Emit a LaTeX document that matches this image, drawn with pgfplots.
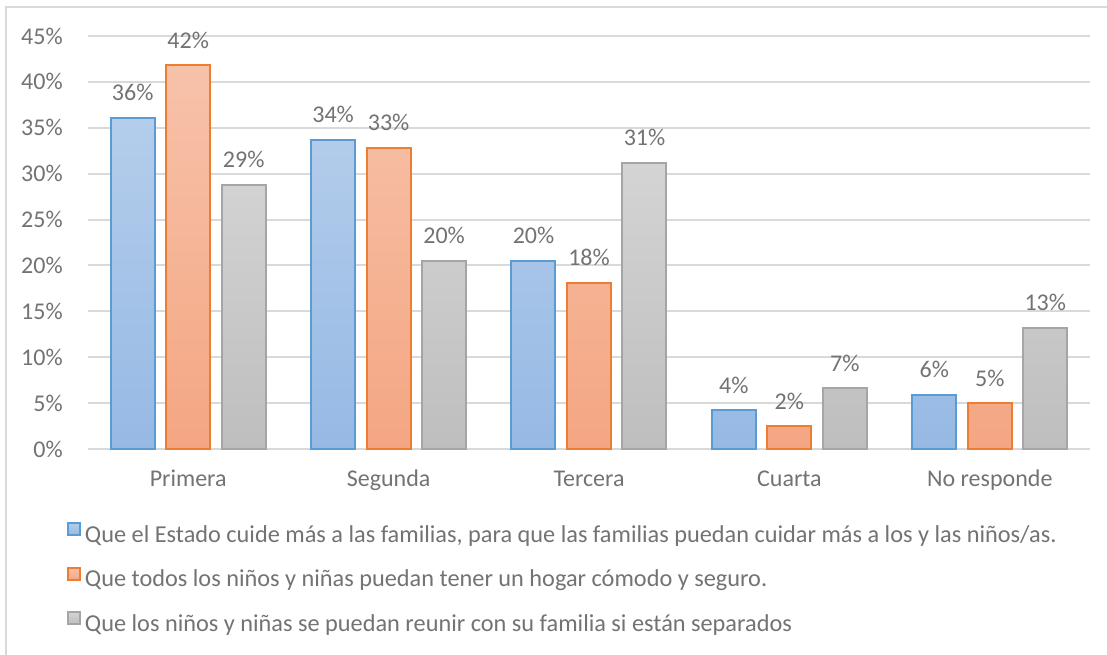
\documentclass[border=0pt]{standalone}
\usepackage{pgfplots}
\pgfplotsset{compat=1.18}
\usepackage{pgfplotstable}
\usepackage{fontspec}
\setmainfont{Carlito}
\definecolor{txt}{RGB}{115,115,115}
\definecolor{grid}{RGB}{217,217,217}
\definecolor{bB}{RGB}{91,155,213}
\definecolor{bO}{RGB}{237,125,49}
\definecolor{bG}{RGB}{165,165,165}
\definecolor{tB}{RGB}{180,205,235}
\definecolor{dB}{RGB}{150,185,228}
\definecolor{tO}{RGB}{247,194,170}
\definecolor{dO}{RGB}{244,166,130}
\definecolor{tG}{RGB}{212,212,212}
\definecolor{dG}{RGB}{190,190,190}

\pgfplotstableread{
x y lab
0 36.1 36
1 33.7 34
2 20.5 20
3 4.2 4
4 5.9 6
}\tblA
\pgfplotstableread{
x y lab
0 41.8 42
1 32.8 33
2 18.1 18
3 2.5 2
4 5.0 5
}\tblB
\pgfplotstableread{
x y lab
0 28.8 29
1 20.5 20
2 31.2 31
3 6.6 7
4 13.2 13
}\tblC

\begin{document}
\begin{tikzpicture}
\useasboundingbox (0,0) rectangle (1107pt,-654pt);
\fill[white] (0,0) rectangle (1107pt,-654pt);
\draw[grid, line width=2pt] (5.5pt,-660pt) -- (5.5pt,-6.5pt) -- (1110pt,-6.5pt);
\begin{axis}[
  at={(88pt,-449pt)}, anchor=south west,
  scale only axis, width=1002pt, height=413pt,
  xmin=-0.5, xmax=4.5, ymin=0, ymax=45,
  ybar=11.5pt, bar width=44pt,
  axis lines=left, axis line style={-},
  y axis line style={draw=none},
  x axis line style={draw=grid, line width=2pt},
  tick style={draw=none},
  ytick={0,5,...,45},
  yticklabels={0\%,5\%,10\%,15\%,20\%,25\%,30\%,35\%,40\%,45\%},
  xtick={0,1,2,3,4},
  xticklabels={Primera,Segunda,Tercera,Cuarta,No responde},
  ymajorgrids, major grid style={draw=grid, line width=2pt},
  font=\fontsize{24}{28}\selectfont,
  tick label style={text=txt},
  yticklabel style={inner sep=0pt, xshift=-23pt},
  xticklabel style={anchor=base, inner sep=0pt, yshift=-35pt},
  point meta=explicit symbolic,
  nodes near coords={\pgfplotspointmeta\%},
  every node near coord/.append style={text=txt, anchor=base, inner sep=0pt, yshift=17pt, font=\fontsize{24}{28}\selectfont},
  legend style={at={(-0.022,-0.177)}, anchor=north west, draw=none, fill=none,
    inner sep=0pt, outer sep=0pt, row sep=18.5pt, column sep=0pt,
    nodes={inner sep=0pt, text height=16pt, text depth=6pt, text=txt, font=\fontsize{24.3}{28}\selectfont}},
  legend cell align=left,
  legend image code/.code={\draw[#1, line width=2pt] (1pt,2pt) rectangle (13pt,14pt); \path (0,0) (17pt,0);},
]
\addplot[draw=bB, line width=2pt, top color=tB, bottom color=dB] table[x=x, y=y, meta=lab] {\tblA};
\addplot[draw=bO, line width=2pt, top color=tO, bottom color=dO] table[x=x, y=y, meta=lab] {\tblB};
\addplot[draw=bG, line width=2pt, top color=tG, bottom color=dG] table[x=x, y=y, meta=lab] {\tblC};
\legend{{Que el Estado cuide más a las familias, para que las familias puedan cuidar más a los y las niños/as.},
{Que todos los niños y niñas puedan tener un hogar cómodo y seguro.},
{Que los niños y niñas se puedan reunir con su familia si están separados}}
\end{axis}
\end{tikzpicture}
\end{document}
